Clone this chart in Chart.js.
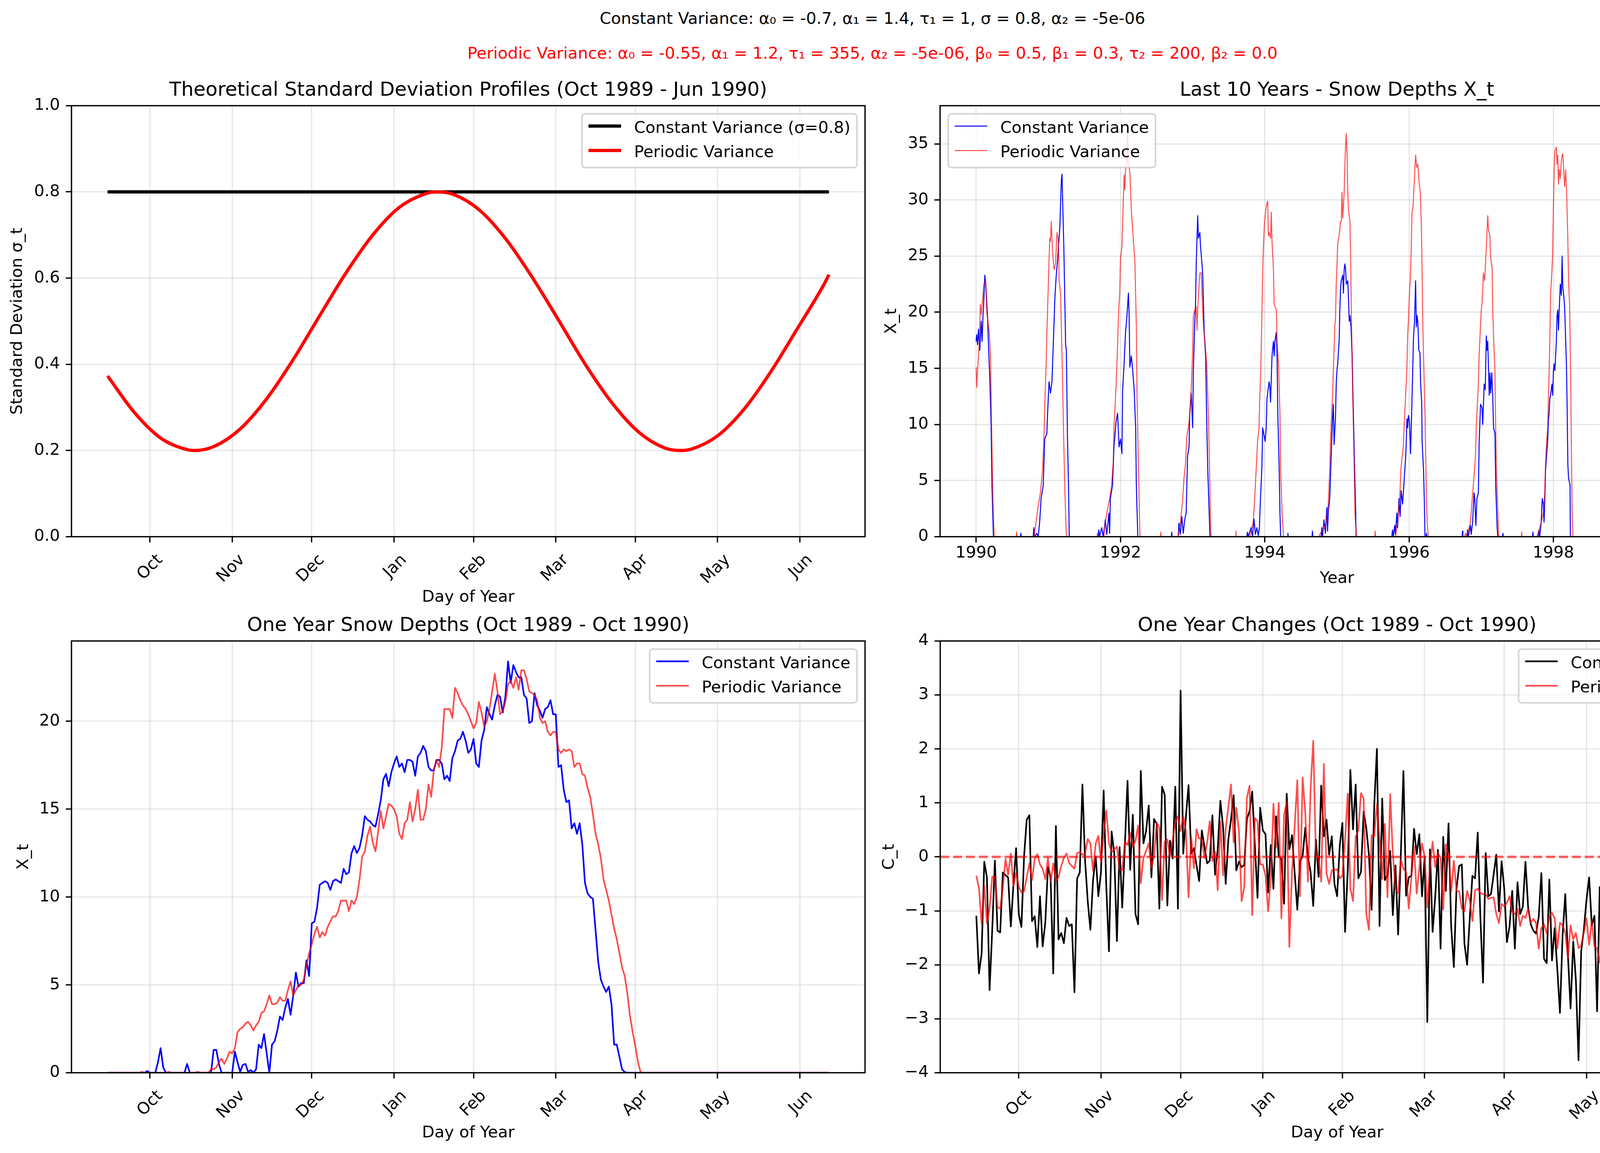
<!DOCTYPE html>
<html>
<head>
<meta charset="utf-8">
<script src="https://cdn.jsdelivr.net/npm/chart.js@4.4.1/dist/chart.umd.min.js"></script>
<style>
  html, body { margin: 0; padding: 0; background: #fff; }
  #fig { position: relative; width: 4467px; height: 2951px; overflow: hidden; background: #fff; }
  #fig canvas { position: absolute; }
  .sup { position: absolute; left: 0; width: 4467px; text-align: center; font-family: 'DejaVu Sans', sans-serif;
         font-size: 41.67px; line-height: 50px; white-space: pre; }
</style>
</head>
<body>
<div id="fig">
  <div class="sup" style="top:21.6px;color:#000">Constant Variance: α₀ = -0.7, α₁ = 1.4, τ₁ = 1, σ = 0.8, α₂ = -5e-06</div>
  <div class="sup" style="top:111.3px;color:#f00">Periodic Variance: α₀ = -0.55, α₁ = 1.2, τ₁ = 355, α₂ = -5e-06, β₀ = 0.5, β₁ = 0.3, τ₂ = 200, β₂ = 0.0</div>
  <canvas id="tl"></canvas>
  <canvas id="tr"></canvas>
  <canvas id="bl"></canvas>
  <canvas id="br"></canvas>
</div>
<script>
// ---------------- data ----------------

// month ticks of the one-season panels (day index, 0 = mid September)
const monthTickDays = [16, 47, 77, 108, 138, 169, 199, 230, 261];
const monthLabels = ['Oct', 'Nov', 'Dec', 'Jan', 'Feb', 'Mar', 'Apr', 'May', 'Jun'];

// theoretical sigma profiles
const sigmaDays = [0, 10, 20, 30, 33, 40, 50, 60, 70, 80, 90, 100, 110, 120, 124, 130, 140, 150, 160, 170,
  180, 190, 200, 210, 216, 220, 230, 240, 250, 260, 270, 272];
const sigmaPeriodic = [0.373, 0.289, 0.229, 0.202, 0.200, 0.209, 0.250, 0.320, 0.411, 0.513, 0.613, 0.700, 0.764, 0.796, 0.800, 0.795,
  0.759, 0.692, 0.603, 0.503, 0.401, 0.312, 0.244, 0.206, 0.200, 0.203, 0.234, 0.296, 0.382, 0.482, 0.584, 0.608];
const sigmaConstDays = [0, 272];
const sigmaConst = [0.8, 0.8];

// last 10 years, constant variance model
const tenYrConstX = [
  1990.000, 1990.007, 1990.020, 1990.032, 1990.050, 1990.070, 1990.082, 1990.095, 1990.107, 1990.120, 1990.132, 1990.144, 1990.157, 1990.169, 1990.189, 1990.207, 1990.219, 1990.232, 1990.239,
  1990.615, 1990.62, 1990.625,
  1990.79, 1990.80, 1990.81, 1990.84, 1990.86, 1990.88, 1990.90, 1990.93, 1990.95, 1990.98, 1990.99, 1991.01, 1991.03, 1991.05, 1991.06, 1991.08, 1991.09, 1991.11, 1991.13, 1991.14, 1991.16, 1991.18, 1991.19, 1991.20, 1991.215, 1991.24, 1991.25, 1991.265, 1991.28, 1991.29,
  1991.69, 1991.70, 1991.71, 1991.74, 1991.76, 1991.79, 1991.81, 1991.84, 1991.85, 1991.86, 1991.89, 1991.91, 1991.94, 1991.96, 1991.98, 1992.00, 1992.02, 1992.03, 1992.05, 1992.07, 1992.09, 1992.11, 1992.12, 1992.13, 1992.15, 1992.17, 1992.19, 1992.21, 1992.22, 1992.24,
  1992.705, 1992.71, 1992.715, 1992.80, 1992.81, 1992.83, 1992.85, 1992.87, 1992.89, 1992.91, 1992.93, 1992.95, 1992.96, 1992.98, 1993.00, 1993.01, 1993.03, 1993.04, 1993.05, 1993.07, 1993.08, 1993.10, 1993.11, 1993.13, 1993.14, 1993.16, 1993.18, 1993.195, 1993.21, 1993.23, 1993.24,
  1993.75, 1993.76, 1993.77, 1993.81, 1993.83, 1993.85, 1993.87, 1993.89, 1993.91, 1993.925, 1993.94, 1993.96, 1993.97, 1993.99, 1994.005, 1994.02, 1994.03, 1994.04, 1994.06, 1994.07, 1994.08, 1994.09, 1994.10, 1994.12, 1994.13, 1994.14, 1994.16, 1994.17, 1994.18, 1994.20, 1994.21, 1994.22,
  1994.315, 1994.32, 1994.325,
  1994.655, 1994.66, 1994.665, 1994.78, 1994.79, 1994.80, 1994.82, 1994.84, 1994.86, 1994.87, 1994.88, 1994.90, 1994.91, 1994.93, 1994.94, 1994.95, 1994.96, 1994.98, 1994.99, 1995.00, 1995.01, 1995.03, 1995.04, 1995.05, 1995.06, 1995.08, 1995.09, 1995.10, 1995.11, 1995.12, 1995.13, 1995.15, 1995.16, 1995.17, 1995.18, 1995.195, 1995.21, 1995.22, 1995.23, 1995.245, 1995.26, 1995.265,
  1995.76, 1995.77, 1995.78, 1995.80, 1995.81, 1995.83, 1995.84, 1995.86, 1995.875, 1995.89, 1995.91, 1995.925, 1995.94, 1995.955, 1995.97, 1995.98, 1995.99, 1996.005, 1996.02, 1996.035, 1996.05, 1996.06, 1996.075, 1996.09, 1996.10, 1996.11, 1996.12, 1996.135, 1996.15, 1996.16, 1996.175, 1996.18, 1996.20, 1996.21, 1996.22,
  1996.235, 1996.24, 1996.245,
  1996.735, 1996.74, 1996.745, 1996.80, 1996.81, 1996.82, 1996.85, 1996.86, 1996.88, 1996.90, 1996.91, 1996.925, 1996.94, 1996.96, 1996.97, 1996.99, 1997.01, 1997.02, 1997.04, 1997.055, 1997.07, 1997.08, 1997.09, 1997.11, 1997.12, 1997.13, 1997.145, 1997.16, 1997.17, 1997.19, 1997.20, 1997.22, 1997.23,
  1997.295, 1997.30, 1997.305,
  1997.71, 1997.715, 1997.72, 1997.79, 1997.80, 1997.81, 1997.83, 1997.845, 1997.86, 1997.87, 1997.88, 1997.89, 1997.905, 1997.92, 1997.93, 1997.94, 1997.95, 1997.96, 1997.98, 1997.99, 1998.00, 1998.01, 1998.02, 1998.04, 1998.05, 1998.06, 1998.07, 1998.08, 1998.095, 1998.11, 1998.12, 1998.13, 1998.14, 1998.155, 1998.17, 1998.18, 1998.19, 1998.20, 1998.21, 1998.23, 1998.235,
  1998.66, 1998.665, 1998.67, 1998.74, 1998.745, 1998.75, 1998.81, 1998.82, 1998.84, 1998.86, 1998.87, 1998.88, 1998.90, 1998.91, 1998.92, 1998.93, 1998.945, 1998.955, 1998.97, 1998.98, 1998.99, 1999.00, 1999.01, 1999.02, 1999.03, 1999.04, 1999.05, 1999.06, 1999.07, 1999.085, 1999.10, 1999.11, 1999.12, 1999.13, 1999.14, 1999.15, 1999.16, 1999.18, 1999.19, 1999.20, 1999.21, 1999.22, 1999.235, 1999.245,
  1999.635, 1999.64, 1999.645, 1999.71, 1999.715, 1999.72, 1999.75, 1999.76, 1999.78, 1999.79, 1999.81, 1999.82, 1999.84, 1999.86, 1999.88, 1999.90, 1999.91, 1999.92, 1999.94, 1999.95, 1999.96, 1999.97, 1999.98, 2000.00
];
const tenYrConstY = [
  17.4, 18.0, 17.1, 18.5, 16.6, 19.2, 17.4, 19.7, 21.2, 23.3, 22.5, 21.2, 19.7, 17.4, 14.1, 10.0, 4.6, 1.6, 0,
  0, 0.3, 0,
  0, 0.8, 0, 0.3, 0, 1.3, 3.4, 4.6, 8.7, 9.2, 11.0, 13.8, 12.8, 13.8, 15.5, 19.2, 21.2, 23.3, 24.8, 25.8, 27.6, 31.7, 32.3, 29.6, 25.8, 17.1, 16.6, 9.0, 4.6, 0,
  0, 0.6, 0, 0.8, 0, 1.5, 0.2, 2.1, 0.3, 3.4, 4.6, 8.0, 10.3, 11.0, 8.0, 8.7, 7.4, 13.1, 15.4, 18.2, 19.7, 21.7, 19.7, 15.1, 16.1, 14.8, 13.1, 9.7, 4.6, 0,
  0, 0.4, 0, 0, 1.2, 0.2, 1.8, 0.3, 1.5, 2.1, 7.2, 8.0, 11.0, 12.8, 9.7, 14.8, 19.2, 20.7, 24.3, 28.6, 26.6, 27.1, 25.8, 24.3, 23.3, 18.2, 16.1, 10.3, 5.9, 2.0, 0,
  0, 0.4, 0, 0.8, 0, 1.6, 0.2, 0.8, 0.1, 0.8, 3.4, 6.2, 9.7, 9.0, 8.5, 9.7, 12.3, 12.8, 13.8, 13.3, 12.0, 14.1, 16.1, 17.4, 16.1, 17.4, 18.2, 16.1, 11.0, 5.9, 2.1, 0,
  0, 0.3, 0,
  0, 0.5, 0, 0, 0.8, 0, 1.5, 0.3, 2.6, 0.5, 2.2, 3.4, 5.2, 9.0, 10.7, 11.8, 8.2, 10.7, 13.6, 14.8, 15.4, 17.4, 20.2, 22.2, 22.8, 23.3, 21.7, 23.8, 24.3, 23.8, 22.5, 22.8, 21.2, 19.2, 19.7, 18.7, 16.1, 13.1, 10.3, 5.9, 2.1, 0,
  0, 0.6, 0, 1.0, 0.2, 2.1, 0.8, 3.4, 1.8, 4.1, 2.9, 4.4, 5.9, 7.4, 10.5, 9.7, 10.8, 10.3, 7.4, 11.0, 14.8, 17.7, 19.2, 22.8, 18.7, 19.7, 19.2, 16.6, 16.4, 13.6, 11.8, 8.5, 5.9, 3.4, 0,
  0, 0.3, 0,
  0, 0.5, 0, 0, 0.6, 0, 1.0, 0.2, 1.3, 3.9, 3.4, 1.0, 3.4, 3.9, 8.2, 11.8, 11.5, 10.0, 13.6, 13.1, 17.9, 16.6, 17.4, 12.6, 14.6, 12.8, 14.6, 12.3, 9.7, 9.2, 4.6, 0.8, 0,
  0, 0.3, 0,
  0, 0.4, 0, 0, 0.6, 0, 1.3, 3.4, 2.9, 1.3, 3.1, 5.9, 7.2, 8.5, 10.3, 11.0, 12.3, 12.6, 13.6, 12.6, 14.8, 15.4, 14.8, 17.4, 19.7, 20.2, 18.4, 20.2, 22.5, 21.5, 25.0, 22.2, 21.7, 20.5, 17.4, 15.4, 11.5, 6.4, 5.2, 4.6, 0,
  0, 0.3, 0, 0, 0.5, 0, 0.5, 0, 0.8, 1.3, 2.1, 4.4, 3.4, 2.9, 3.9, 5.9, 8.0, 10.5, 11.0, 12.3, 14.6, 13.6, 16.6, 18.9, 22.8, 24.0, 24.8, 22.2, 23.8, 25.8, 27.1, 27.9, 27.9, 24.3, 22.8, 23.3, 21.2, 16.1, 14.8, 15.1, 11.0, 5.9, 3.9, 0,
  0, 0.5, 0, 0, 0.6, 0, 0.8, 0, 1.0, 0.2, 2.3, 0.8, 1.6, 0.8, 1.6, 0.8, 2.1, 3.9, 5.4, 7.2, 9.7, 11.0, 12.6, 14.4
];

// last 10 years, periodic variance model
const tenYrPerX = [
  1990.000, 1990.007, 1990.025, 1990.045, 1990.057, 1990.070, 1990.082, 1990.095, 1990.107, 1990.132, 1990.149, 1990.182, 1990.199, 1990.214, 1990.232, 1990.249,
  1990.555, 1990.56, 1990.565,
  1990.80, 1990.82, 1990.85, 1990.89, 1990.92, 1990.94, 1990.95, 1990.97, 1990.98, 1990.99, 1991.00, 1991.02, 1991.03, 1991.04, 1991.06, 1991.08, 1991.10, 1991.12, 1991.14, 1991.15, 1991.17, 1991.19, 1991.21, 1991.23, 1991.25,
  1991.675, 1991.68, 1991.685, 1991.77, 1991.78, 1991.81, 1991.85, 1991.875, 1991.90, 1991.91, 1991.94, 1991.96, 1991.975, 1991.99, 1992.00, 1992.02, 1992.03, 1992.05, 1992.06, 1992.07, 1992.09, 1992.10, 1992.11, 1992.13, 1992.15, 1992.17, 1992.20, 1992.22, 1992.23, 1992.25, 1992.27,
  1992.555, 1992.56, 1992.565, 1992.80, 1992.83, 1992.86, 1992.88, 1992.90, 1992.92, 1992.94, 1992.96, 1992.98, 1993.00, 1993.01, 1993.03, 1993.05, 1993.06, 1993.07, 1993.09, 1993.10, 1993.12, 1993.13, 1993.15, 1993.17, 1993.195, 1993.22, 1993.235, 1993.245, 1993.255,
  1993.595, 1993.60, 1993.605, 1993.79, 1993.80, 1993.84, 1993.86, 1993.88, 1993.90, 1993.92, 1993.93, 1993.945, 1993.96, 1993.97, 1993.98, 1993.995, 1994.01, 1994.025, 1994.04, 1994.05, 1994.06, 1994.08, 1994.09, 1994.10, 1994.12, 1994.13, 1994.15, 1994.16, 1994.17, 1994.19, 1994.21, 1994.22, 1994.24, 1994.26,
  1994.75, 1994.76, 1994.83, 1994.86, 1994.88, 1994.90, 1994.91, 1994.93, 1994.94, 1994.95, 1994.97, 1994.98, 1994.99, 1995.00, 1995.01, 1995.03, 1995.05, 1995.06, 1995.07, 1995.08, 1995.10, 1995.11, 1995.12, 1995.13, 1995.14, 1995.15, 1995.16, 1995.18, 1995.19, 1995.20, 1995.22, 1995.24, 1995.25, 1995.27,
  1995.525, 1995.53, 1995.535, 1995.81, 1995.84, 1995.87, 1995.885, 1995.90, 1995.92, 1995.93, 1995.94, 1995.955, 1995.97, 1995.98, 1995.99, 1996.005, 1996.02, 1996.03, 1996.04, 1996.055, 1996.07, 1996.08, 1996.09, 1996.105, 1996.12, 1996.13, 1996.14, 1996.155, 1996.17, 1996.18, 1996.19, 1996.205, 1996.22, 1996.23, 1996.24, 1996.25, 1996.265,
  1996.77, 1996.78, 1996.80, 1996.85, 1996.875, 1996.89, 1996.905, 1996.92, 1996.93, 1996.94, 1996.96, 1996.97, 1996.99, 1997.00, 1997.01, 1997.03, 1997.045, 1997.055, 1997.07, 1997.08, 1997.09, 1997.10, 1997.12, 1997.125, 1997.14, 1997.15, 1997.16, 1997.17, 1997.19, 1997.20, 1997.21, 1997.23, 1997.24,
  1997.555, 1997.56, 1997.565, 1997.77, 1997.81, 1997.83, 1997.86, 1997.88, 1997.89, 1997.905, 1997.92, 1997.93, 1997.94, 1997.95, 1997.96, 1997.98, 1997.99, 1998.00, 1998.01, 1998.02, 1998.04, 1998.05, 1998.06, 1998.07, 1998.08, 1998.095, 1998.11, 1998.12, 1998.13, 1998.14, 1998.155, 1998.17, 1998.185, 1998.20, 1998.21, 1998.225, 1998.24, 1998.25, 1998.26, 1998.27,
  1998.66, 1998.665, 1998.67, 1998.80, 1998.83, 1998.855, 1998.87, 1998.89, 1998.90, 1998.91, 1998.93, 1998.94, 1998.95, 1998.96, 1998.97, 1998.98, 1998.99, 1999.00, 1999.01, 1999.02, 1999.03, 1999.045, 1999.06, 1999.07, 1999.08, 1999.09, 1999.10, 1999.12, 1999.13, 1999.14, 1999.15, 1999.16, 1999.175, 1999.19, 1999.20, 1999.21, 1999.22, 1999.235, 1999.25, 1999.26, 1999.27,
  1999.635, 1999.64, 1999.645, 1999.78, 1999.82, 1999.84, 1999.85, 1999.87, 1999.88, 1999.89, 1999.90, 1999.91, 1999.92, 1999.935, 1999.94, 1999.95, 1999.96, 1999.97, 1999.975, 1999.98, 2000.00
];
const tenYrPerY = [
  15.1, 13.3, 15.4, 17.4, 20.7, 19.8, 20.7, 21.5, 22.5, 22.8, 19.9, 18.2, 16.1, 9.7, 3.4, 0,
  0, 0.4, 0,
  0, 0.8, 2.3, 3.9, 5.9, 9.0, 11.5, 15.4, 18.2, 20.2, 22.5, 26.6, 26.3, 28.1, 25.3, 23.8, 24.3, 27.1, 26.3, 22.8, 21.7, 16.1, 9.7, 3.9, 0,
  0, 0.3, 0, 0, 0.8, 2.1, 3.4, 4.4, 6.7, 9.7, 13.6, 17.1, 20.2, 21.7, 24.8, 25.8, 28.1, 32.2, 30.9, 32.7, 33.2, 36.3, 33.5, 32.4, 29.1, 27.3, 24.5, 18.7, 12.3, 5.9, 0,
  0, 0.4, 0, 0, 1.3, 3.1, 5.2, 6.4, 9.0, 9.7, 10.8, 13.1, 16.4, 19.7, 20.2, 20.5, 18.4, 20.2, 22.5, 23.5, 23.5, 21.7, 18.7, 17.4, 15.4, 10.5, 5.9, 2.0, 0,
  0, 0.5, 0, 0, 0.2, 1.3, 3.4, 5.9, 8.5, 9.7, 12.3, 15.1, 19.7, 23.3, 25.6, 27.9, 28.9, 29.6, 29.9, 26.8, 27.1, 26.6, 28.9, 26.3, 23.8, 20.7, 20.4, 20.2, 17.4, 15.4, 11.0, 5.9, 2.1, 0,
  0, 0.2, 0.8, 1.6, 2.9, 5.9, 8.5, 11.5, 12.6, 14.8, 18.7, 19.4, 22.5, 24.0, 26.1, 26.8, 28.1, 28.1, 30.7, 28.4, 30.7, 33.2, 35.0, 35.9, 34.0, 30.7, 29.1, 28.1, 24.8, 19.7, 12.3, 5.9, 2.1, 0,
  0, 0.5, 0, 0, 1.3, 3.4, 5.9, 6.9, 8.0, 9.7, 11.0, 13.1, 15.1, 17.9, 19.2, 21.7, 23.5, 25.8, 28.9, 29.4, 31.4, 32.7, 34.0, 32.9, 33.2, 32.4, 31.4, 30.7, 27.6, 23.5, 18.7, 14.8, 11.0, 7.2, 3.4, 1.3, 0,
  0, 0.3, 0, 1.3, 3.4, 4.6, 5.9, 7.2, 9.7, 11.0, 13.6, 16.1, 18.9, 20.2, 20.7, 23.5, 22.8, 23.8, 25.8, 27.3, 28.6, 27.3, 26.8, 25.3, 24.3, 24.0, 19.9, 17.9, 14.6, 9.7, 5.9, 2.1, 0,
  0, 0.4, 0, 0, 0.8, 1.3, 2.1, 3.9, 6.4, 8.5, 9.7, 12.3, 14.6, 17.4, 21.5, 23.8, 25.3, 29.4, 32.7, 34.4, 34.7, 33.2, 34.0, 31.4, 32.7, 31.9, 33.5, 34.0, 34.1, 33.0, 31.2, 32.7, 30.2, 26.3, 22.8, 20.5, 13.6, 7.2, 2.1, 0,
  0, 0.4, 0, 0, 0.6, 1.6, 2.9, 5.9, 8.0, 11.0, 11.3, 9.7, 13.6, 17.4, 18.2, 18.0, 20.7, 21.2, 23.8, 24.0, 27.1, 27.3, 26.6, 30.2, 28.4, 28.9, 29.4, 34.0, 32.7, 33.0, 32.2, 31.7, 29.6, 27.6, 23.8, 19.9, 14.8, 9.7, 5.9, 2.1, 0,
  0, 0.3, 0, 0, 0.6, 2.1, 4.1, 5.2, 6.7, 9.7, 13.6, 14.1, 13.3, 14.1, 16.1, 18.7, 20.7, 21.7, 24.8, 26.3, 29.3
];

// one season of daily snow depth X_t (day 0 .. 272)
const oneYrConst = [
  0, 0, 0, 0, 0, 0, 0, 0, 0, 0,
  0, 0, 0, 0, 0, 0.1, 0, 0, 0, 0.6,
  1.4, 0.3, 0, 0, 0, 0, 0, 0, 0, 0,
  0.5, 0, 0, 0, 0, 0, 0, 0, 0, 0,
  1.3, 1.3, 0.5, 0, 0, 0, 0, 0, 1.2, 0.6,
  0.05, 0.45, 0.5, 0.05, 0.15, 0, 0.2, 1.6, 1.4, 2.2,
  1.1, 0, 1.6, 1.8, 2.4, 3.2, 3.0, 3.7, 4.2, 3.3,
  4.4, 5.7, 4.9, 5.1, 5.1, 6.4, 5.5, 8.5, 8.6, 9.4,
  10.7, 10.8, 10.9, 10.8, 10.4, 10.9, 11.0, 10.9, 10.8, 11.6,
  11.3, 11.4, 12.5, 12.9, 12.5, 12.8, 13.5, 14.6, 14.4, 14.3,
  14.1, 14.0, 14.7, 15.5, 16.7, 17.0, 16.3, 17.1, 17.6, 18.0,
  17.4, 17.6, 17.1, 17.8, 17.8, 17.7, 16.9, 18.0, 18.2, 18.6,
  18.3, 17.4, 17.2, 17.2, 17.8, 17.8, 17.6, 16.7, 16.9, 16.6,
  17.9, 18.3, 18.9, 19.0, 19.4, 18.9, 18.2, 18.4, 19.0, 17.6,
  17.4, 18.9, 19.5, 20.8, 20.4, 20.1, 20.9, 21.5, 21.4, 20.5,
  21.4, 23.4, 22.2, 23.2, 22.8, 22.5, 22.5, 21.5, 21.3, 19.9,
  20.0, 21.6, 20.9, 20.6, 20.2, 20.7, 20.8, 21.2, 20.4, 20.4,
  17.4, 17.5, 16.1, 15.4, 15.5, 13.9, 14.2, 13.6, 14.2, 13.0,
  10.8, 10.2, 10.0, 9.9, 8.1, 6.3, 5.3, 4.9, 4.6, 4.9,
  3.9, 1.6, 1.6, 0.9, 0.2, 0.03, 0, 0, 0, 0,
  0, 0, 0, 0, 0, 0, 0, 0, 0, 0,
  0, 0, 0, 0, 0, 0, 0, 0, 0, 0,
  0, 0, 0, 0, 0, 0, 0, 0, 0, 0,
  0, 0, 0, 0, 0, 0, 0, 0, 0, 0,
  0, 0, 0, 0, 0, 0, 0, 0, 0, 0,
  0, 0, 0, 0, 0, 0, 0, 0, 0, 0,
  0, 0, 0, 0, 0, 0, 0, 0, 0, 0,
  0, 0, 0
];
const oneYrPer = [
  0, 0, 0, 0, 0, 0, 0, 0, 0, 0,
  0, 0, 0, 0.05, 0, 0, 0, 0, 0, 0,
  0, 0, 0, 0.05, 0, 0, 0, 0, 0, 0,
  0, 0, 0, 0, 0.05, 0, 0, 0.02, 0, 0.2,
  0.2, 0.3, 0.6, 0.8, 0.5, 0.8, 1.2, 1.1, 1.4, 2.3,
  2.5, 2.6, 2.8, 2.9, 2.7, 2.4, 2.7, 2.9, 3.4, 3.5,
  3.9, 4.4, 3.9, 3.9, 4.0, 4.3, 4.1, 4.1, 4.7, 5.2,
  4.4, 4.7, 5.0, 5.0, 5.3, 6.1, 6.8, 7.3, 7.9, 8.3,
  7.7, 8.0, 7.8, 8.3, 8.6, 8.9, 8.9, 9.2, 9.8, 9.8,
  9.8, 9.2, 9.8, 9.6, 10.0, 11.0, 12.3, 12.6, 13.5, 14.0,
  13.1, 12.6, 13.7, 14.9, 13.9, 14.6, 15.3, 15.2, 15.0, 14.6,
  13.6, 13.3, 14.2, 14.4, 15.4, 14.3, 15.0, 16.1, 14.4, 14.4,
  15.0, 16.4, 15.7, 17.2, 17.8, 17.4, 18.5, 20.7, 20.7, 20.7,
  20.2, 21.9, 21.6, 21.2, 20.9, 20.7, 20.4, 20.0, 19.6, 19.9,
  21.1, 20.5, 19.7, 20.0, 20.7, 21.7, 22.7, 21.7, 20.4, 20.6,
  21.1, 22.1, 22.3, 21.9, 22.5, 21.8, 22.9, 22.9, 22.4, 21.7,
  21.6, 21.5, 21.2, 20.2, 19.9, 20.0, 19.4, 19.2, 19.4, 19.4,
  18.4, 18.2, 18.4, 18.3, 18.4, 18.3, 17.4, 17.6, 17.6, 17.0,
  16.9, 16.2, 15.7, 14.7, 13.6, 13.0, 12.2, 11.0, 10.4, 9.8,
  9.0, 8.2, 7.6, 6.8, 6.0, 5.5, 4.5, 3.2, 2.3, 1.5,
  0.6, 0.03, 0, 0, 0, 0, 0, 0, 0, 0,
  0, 0, 0, 0, 0, 0, 0, 0, 0, 0,
  0, 0, 0, 0, 0, 0, 0, 0, 0, 0,
  0, 0, 0, 0, 0, 0, 0, 0, 0, 0,
  0, 0, 0, 0, 0, 0, 0, 0, 0, 0,
  0, 0, 0, 0, 0, 0, 0, 0, 0, 0,
  0, 0, 0, 0, 0, 0, 0, 0, 0, 0,
  0, 0, 0
];

// one season of daily changes C_t
const changeConst = [
  -1.09, -2.16, -1.79, -0.09, -0.38, -2.47, -1.35, -0.07, -1.37, -1.40,
  -0.29, -0.34, -0.38, -1.29, -0.51, 0.16, -1.06, -1.30, 0.01, 0.69,
  0.77, -1.19, -1.10, -1.67, -0.73, -1.66, -1.22, -0.19, -0.38, -2.16,
  0.57, -1.53, -1.41, -1.60, -1.13, -1.28, -1.25, -2.51, -0.40, -0.29,
  1.34, -0.07, -0.82, -1.35, -0.43, 0.01, -0.73, -0.28, 1.23, -0.56,
  -1.75, 0.47, 0.06, -1.56, 0.18, -0.94, 0.22, 1.41, -0.24, 0.78,
  -1.06, -1.25, 1.59, 0.25, 0.48, 0.95, -0.38, 0.70, 0.61, -0.96,
  1.30, 1.15, -0.90, 0.30, -0.03, 1.30, -0.96, 3.08, 0.06, 0.74,
  1.33, 0.06, 0.16, -0.15, -0.45, 0.49, 0.19, -0.12, -0.07, 0.77,
  -0.33, 0.14, 1.04, 0.56, -0.50, 0.32, 0.69, 1.14, -0.25, -0.09,
  -0.19, -0.15, 0.70, 0.85, 1.21, 0.22, -0.76, 0.91, 0.49, 0.42,
  -0.66, 0.22, -0.59, 0.75, 0.01, -0.04, -0.87, 1.17, 0.14, 0.40,
  -0.29, -0.98, -0.09, 0.02, 0.54, 0.00, -0.28, -0.91, 0.32, -0.37,
  1.32, 0.38, 0.69, 0.04, 0.38, -0.50, -0.73, 0.21, 0.63, -1.39,
  -0.25, 1.61, 0.51, 1.34, -0.40, -0.28, 0.84, 0.53, 0.04, -0.98,
  0.96, 2.00, -1.28, 1.08, -0.43, -0.34, 0.11, -1.08, -0.16, -1.44,
  0.01, 1.59, -0.72, -0.38, -0.35, 0.52, 0.05, 0.42, -0.73, 0.00,
  -3.06, 0.14, -1.39, -0.73, 0.13, -1.70, 0.37, -0.63, 0.62, -1.29,
  -2.04, -0.59, -0.17, -0.14, -1.61, -2.00, -1.14, -0.35, -0.40, 0.45,
  -1.11, -2.33, 0.07, -0.73, -0.69, -0.33, 0.04, -1.01, -0.08, -0.59,
  -1.58, -1.29, -0.63, -1.70, -0.47, -1.06, -0.92, -0.09, -0.93, -1.25,
  -1.37, -1.42, -1.11, -0.30, -1.89, -1.97, -0.42, -1.92, -1.32, -2.08,
  -2.89, -1.45, -0.69, -1.82, -2.81, -1.57, -2.28, -3.77, -1.75, -1.35,
  -0.80, -0.38, -1.27, -1.09, -2.86, -0.56, -0.85, -2.18, -1.37, -1.45,
  -0.77, -2.10, -2.57, -2.39, -1.29, -3.59, -4.06, -1.36, -1.87, -2.08,
  -3.16, -3.49, -2.76, -1.87, -2.64, -1.48, -2.96, -2.63, -1.69, -2.54,
  -2.52, -2.78, -2.92, -2.00, -1.91, -2.13, -2.80, -2.52, -1.06, -3.47,
  -0.85, -2.29, -2.52
];
const changePer = [
  -0.35, -0.58, -1.24, -0.54, -1.23, -0.96, -0.37, -0.37, -0.93, -0.96,
  -0.56, -0.04, -0.33, 0.06, -0.54, -0.30, -0.55, -0.66, -0.64, -0.38,
  -0.12, -0.43, -0.04, 0.05, -0.14, -0.22, -0.41, -0.02, -0.46, -0.12,
  -0.45, -0.38, -0.17, -0.02, 0.06, -0.11, -0.17, -0.22, 0.07, 0.09,
  0.04, 0.06, 0.33, 0.25, -0.26, 0.25, 0.39, -0.09, 0.43, 0.86,
  0.25, 0.09, 0.14, 0.19, -0.24, -0.25, 0.28, 0.22, 0.44, 0.19,
  0.30, 0.58, -0.49, -0.02, 0.11, 0.25, -0.20, 0.01, 0.63, 0.54,
  -0.80, 0.28, 0.32, 0.00, 0.32, 0.64, 0.75, 0.48, 0.75, 0.48,
  -0.75, 0.37, -0.21, 0.51, 0.34, 0.33, -0.02, 0.26, 0.66, -0.08,
  0.09, -0.62, 0.66, -0.34, 0.52, 0.92, 1.34, 0.27, 0.91, 0.48,
  -0.82, -0.56, 1.10, 1.32, -1.08, 0.72, 0.66, -0.14, -0.14, -0.34,
  -1.01, -0.41, 0.98, 0.18, 1.00, -1.14, 0.78, 1.01, -1.67, -0.28,
  0.57, 1.42, -0.73, 1.47, 0.82, -0.46, 1.26, 2.15, 0.04, -0.04,
  -0.46, 1.72, -0.31, -0.50, -0.25, -0.24, -0.23, -0.40, -0.35, 0.32,
  1.17, -0.59, -0.82, 0.37, 0.49, 1.18, 1.08, -1.06, -1.35, 0.40,
  0.38, 0.98, 0.32, -0.41, 0.61, -0.75, 1.16, 0.06, -0.59, -0.67,
  -0.05, -0.22, -0.28, -0.96, -0.38, 0.19, -0.68, -0.20, 0.25, 0.00,
  -0.94, -0.20, 0.28, -0.19, 0.07, -0.02, -0.97, 0.23, 0.04, -0.64,
  -0.07, -0.63, -0.64, -0.96, -1.01, -0.63, -0.80, -1.19, -0.62, -0.59,
  -0.67, -0.69, -0.69, -0.78, -0.76, -0.75, -1.06, -1.23, -0.87, -0.92,
  -0.85, -0.73, -1.02, -1.06, -0.96, -1.28, -1.09, -1.13, -0.96, -1.22,
  -1.15, -1.23, -1.70, -1.32, -1.25, -1.42, -1.10, -1.04, -1.13, -1.70,
  -1.22, -1.27, -1.40, -1.87, -1.27, -1.53, -1.41, -1.69, -1.65, -1.40,
  -1.14, -1.63, -1.19, -1.66, -1.69, -1.96, -1.48, -1.66, -1.67, -1.75,
  -1.95, -1.49, -1.69, -1.44, -2.00, -1.58, -0.98, -1.98, -1.93, -1.96,
  -2.17, -1.11, -2.73, -2.26, -1.61, -2.13, -1.84, -1.84, -1.61, -1.82,
  -2.04, -1.81, -1.95, -0.98, -2.17, -1.57, -1.37, -2.63, -2.52, -0.77,
  -2.29, -1.89, -2.00
];

const yearTicks = [1990, 1992, 1994, 1996, 1998, 2000];
const depthTicks10 = [0, 5, 10, 15, 20, 25, 30, 35];
const depthTicks1 = [0, 5, 10, 15, 20];
const sigmaTicks = [0, 0.2, 0.4, 0.6, 0.8, 1.0];
const changeTicks = [-4, -3, -2, -1, 0, 1, 2, 3, 4];
const zeroLineX = [-13.6, 285.6];
const zeroLineY = [0, 0];

// ---------------- look ----------------

const FAMILY = "'DejaVu Sans', sans-serif";
const FS = 41.67;            // 10pt at 300 dpi
const tickFont = { family: FAMILY, size: FS };
const GRID = 'rgba(176,176,176,0.3)';
const AXLW = 3.33;
const RED7 = 'rgba(255,0,0,0.7)';

Chart.defaults.font.family = FAMILY;
Chart.defaults.color = '#000';

// spines, axes title and a matplotlib style legend inside the plot
const axesDecor = {
  id: 'axesDecor',
  afterDraw(chart, args, opts) {
    const { ctx, chartArea: a } = chart;
    ctx.save();
    ctx.strokeStyle = '#000';
    ctx.lineWidth = AXLW;
    ctx.strokeRect(a.left, a.top, a.right - a.left, a.bottom - a.top);

    ctx.fillStyle = '#000';
    ctx.font = '50px ' + FAMILY;
    ctx.textAlign = 'center';
    ctx.textBaseline = 'alphabetic';
    ctx.fillText(opts.title, (a.left + a.right) / 2, a.top - 25.5);

    const items = chart.data.datasets.filter(d => d.label);
    ctx.font = FS + 'px ' + FAMILY;
    const textW = Math.max(...items.map(d => ctx.measureText(d.label).width));
    const pad = 0.4 * FS, hl = 2 * FS, htp = 0.8 * FS, ls = 0.5 * FS, rowH = FS, gap = 0.5 * FS;
    const w = 2 * pad + hl + htp + textW;
    const h = 2 * pad + items.length * rowH + (items.length - 1) * ls;
    const x0 = opts.legendLoc === 'upper left' ? a.left + gap : a.right - gap - w;
    const y0 = a.top + gap;
    ctx.beginPath();
    ctx.roundRect(x0, y0, w, h, 8);
    ctx.fillStyle = 'rgba(255,255,255,0.8)';
    ctx.fill();
    ctx.lineWidth = 4.17;
    ctx.strokeStyle = 'rgba(204,204,204,0.8)';
    ctx.stroke();
    ctx.textAlign = 'left';
    items.forEach((d, i) => {
      const base = y0 + pad + i * (rowH + ls) + 0.76 * FS;
      const ly = base - 17;
      ctx.beginPath();
      ctx.moveTo(x0 + pad, ly);
      ctx.lineTo(x0 + pad + hl, ly);
      ctx.strokeStyle = d.borderColor;
      ctx.lineWidth = d.borderWidth;
      ctx.stroke();
      ctx.fillStyle = '#000';
      ctx.fillText(d.label, x0 + pad + hl + htp, base);
    });
    ctx.restore();
  }
};

function series(xs, ys, label, color, width, order, extra) {
  return Object.assign({
    label: label,
    data: xs.map((x, i) => ({ x: x, y: ys[i] })),
    borderColor: color,
    borderWidth: width,
    pointRadius: 0,
    tension: 0,
    fill: false,
    order: order,
    borderJoinStyle: 'round'
  }, extra || {});
}

function indexOf(arr) {
  return arr.map((v, i) => i);
}

const gridOpts = { color: GRID, lineWidth: AXLW, drawTicks: true, tickLength: 14.6, tickWidth: AXLW, tickColor: '#000' };

function xAxis(min, max, tickVals, labelFn, rotated, title) {
  return {
    type: 'linear', min: min, max: max,
    afterBuildTicks: s => { s.ticks = tickVals.map(v => ({ value: v })); },
    ticks: rotated
      ? { autoSkip: false, minRotation: 45, maxRotation: 45, labelOffset: 26, padding: 21, font: tickFont, color: '#000', callback: (v, i) => labelFn(v, i) }
      : { autoSkip: false, minRotation: 0, maxRotation: 0, padding: 3, font: tickFont, color: '#000', callback: (v, i) => labelFn(v, i) },
    grid: gridOpts,
    border: { display: false },
    title: { display: true, text: title, font: tickFont, color: '#000', padding: 0 }
  };
}

function yAxis(min, max, tickVals, labelFn, title) {
  return {
    type: 'linear', min: min, max: max,
    afterBuildTicks: s => { s.ticks = tickVals.map(v => ({ value: v })); },
    ticks: { font: tickFont, color: '#000', padding: 15, callback: v => labelFn(v) },
    grid: gridOpts,
    border: { display: false },
    title: { display: true, text: title, font: tickFont, color: '#000', padding: 0 }
  };
}

// box = canvas rect on the page, area = plot rect on the page
function makePanel(id, box, area, yLeft, xBottom, datasets, scales, title, legendLoc) {
  const cv = document.getElementById(id);
  cv.width = box[2]; cv.height = box[3];
  cv.style.left = box[0] + 'px'; cv.style.top = box[1] + 'px';
  cv.style.width = box[2] + 'px'; cv.style.height = box[3] + 'px';
  scales.y.afterFit = s => { s.width = area[0] - yLeft; };
  scales.x.afterFit = s => { s.height = xBottom - area[3]; };
  return new Chart(cv.getContext('2d'), {
    type: 'line',
    data: { datasets: datasets },
    options: {
      responsive: false,
      animation: false,
      devicePixelRatio: 1,
      events: [],
      layout: {
        padding: {
          left: yLeft - box[0],
          top: area[1] - box[1],
          right: box[0] + box[2] - area[2],
          bottom: box[1] + box[3] - xBottom
        }
      },
      scales: scales,
      plugins: {
        legend: { display: false },
        tooltip: { enabled: false },
        axesDecor: { title: title, legendLoc: legendLoc }
      }
    },
    plugins: [axesDecor]
  });
}

const monthLabel = (v, i) => monthLabels[i];
const plain = v => String(v);
const minusLabel = v => (v < 0 ? '\u2212' + Math.abs(v) : String(v));

// top left: theoretical standard deviation
makePanel('tl', [0, 180, 2300, 1420], [183, 270.5, 2214.5, 1373.6], 20, 1554,
  [
    series(sigmaConstDays, sigmaConst, 'Constant Variance (\u03c3=0.8)', '#000000', 8.33, 1),
    series(sigmaDays, sigmaPeriodic, 'Periodic Variance', '#ff0000', 8.33, 0, { cubicInterpolationMode: 'monotone' })
  ],
  {
    x: xAxis(-13.6, 285.6, monthTickDays, monthLabel, true, 'Day of Year'),
    y: yAxis(0, 1, sigmaTicks, v => v.toFixed(1), 'Standard Deviation \u03c3_t')
  },
  'Theoretical Standard Deviation Profiles (Oct 1989 - Jun 1990)', 'upper right');

// top right: last ten years
makePanel('tr', [2230, 180, 2237, 1420], [2406.6, 270.5, 4438.6, 1373.6], 2258, 1506,
  [
    series(tenYrConstX, tenYrConstY, 'Constant Variance', '#0000ff', 2.5, 1),
    series(tenYrPerX, tenYrPerY, 'Periodic Variance', RED7, 2.5, 0)
  ],
  {
    x: xAxis(1989.5, 2000.5, yearTicks, plain, false, 'Year'),
    y: yAxis(0, 38.4, depthTicks10, plain, 'X_t')
  },
  'Last 10 Years - Snow Depths X_t', 'upper left');

// bottom left: one season of depths
makePanel('bl', [0, 1550, 2300, 1401], [183, 1640.5, 2214.5, 2745.6], 36, 2925,
  [
    series(indexOf(oneYrConst), oneYrConst, 'Constant Variance', '#0000ff', 4.17, 1),
    series(indexOf(oneYrPer), oneYrPer, 'Periodic Variance', RED7, 4.17, 0)
  ],
  {
    x: xAxis(-13.6, 285.6, monthTickDays, monthLabel, true, 'Day of Year'),
    y: yAxis(0, 24.57, depthTicks1, plain, 'X_t')
  },
  'One Year Snow Depths (Oct 1989 - Oct 1990)', 'upper right');

// bottom right: one season of changes
makePanel('br', [2230, 1550, 2237, 1401], [2407, 1640.5, 4439, 2745.6], 2252, 2925,
  [
    series(indexOf(changeConst), changeConst, 'Constant Variance', '#000000', 4.17, 2),
    series(indexOf(changePer), changePer, 'Periodic Variance', RED7, 4.17, 1),
    series(zeroLineX, zeroLineY, '', 'rgba(255,0,0,0.6)', 6.25, 0, { borderDash: [23, 10] })
  ],
  {
    x: xAxis(-13.6, 285.6, monthTickDays, monthLabel, true, 'Day of Year'),
    y: yAxis(-4, 4, changeTicks, minusLabel, 'C_t')
  },
  'One Year Changes (Oct 1989 - Oct 1990)', 'upper right');
</script>
</body>
</html>
